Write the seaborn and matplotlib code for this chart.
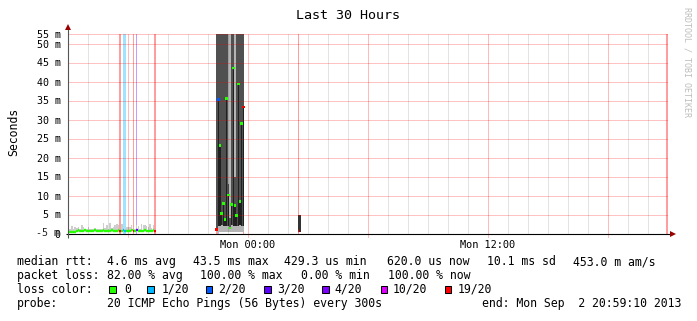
import numpy as np
import pandas as pd
import matplotlib
matplotlib.use("Agg")
import matplotlib.pyplot as plt
from matplotlib.patches import Rectangle
import seaborn as sns

# ---------------- data (time in hours after Sun 15:00, rtt in ms) ----------------
STEP_H = 300 / 3600.0          # one probe round = 300 s

# loss colour scale (SmokePing)
loss_levels = [0, 1, 2, 3, 4, 10, 19]
loss_labels = ["0", "1/20", "2/20", "3/20", "4/20", "10/20", "19/20"]
loss_colors = ["#26ff00", "#00b8ff", "#0059ff", "#5e00ff", "#7e00ff", "#dd00ff", "#ff0000"]

# first stretch of data (Sun 15:00 .. ~19:25)
left_start_h = 0.0
left_median = [0.30, 0.30, 0.35, 0.35, 0.45, 0.75, 0.80, 0.75, 0.70, 0.75,
               0.80, 0.75, 0.75, 0.70, 0.75, 0.75, 0.80, 0.75, 0.70, 0.75,
               0.75, 0.80, 0.75, 0.75, 0.70, 0.75, 0.80, 0.75, 0.75, 0.75,
               0.80, 0.75, 0.75, 0.80, 0.75, 0.75, 0.70, 0.75, 0.80, 0.75,
               0.75, 0.80, 0.75, 0.75, 0.70, 0.75, 0.80, 0.75, 0.75, 0.70,
               0.75, 0.80, 0.75]
left_min = [0.43, 0.43, 0.44, 0.45, 0.45, 0.46, 0.47, 0.46, 0.45, 0.46,
            0.47, 0.46, 0.46, 0.45, 0.46, 0.46, 0.47, 0.46, 0.45, 0.46,
            0.46, 0.47, 0.46, 0.46, 0.45, 0.46, 0.47, 0.46, 0.46, 0.46,
            0.47, 0.46, 0.46, 0.47, 0.46, 0.46, 0.45, 0.46, 0.47, 0.46,
            0.46, 0.47, 0.46, 0.46, 0.45, 0.46, 0.47, 0.46, 0.46, 0.45,
            0.46, 0.47, 0.46]
left_max = [2.8, 1.3, 1.9, 1.2, 1.6, 1.5, 1.8, 1.2, 2.2, 1.8,
            1.2, 1.3, 1.8, 1.2, 1.1, 1.2, 1.5, 1.1, 1.2, 1.1,
            1.3, 2.8, 1.4, 2.2, 1.3, 2.7, 1.4, 1.6, 2.2, 2.4,
            2.3, 1.2, 2.5, 1.3, 1.2, 1.8, 1.7, 1.8, 2.2, 1.2,
            1.3, 2.2, 2.1, 1.3, 2.4, 2.3, 2.2, 2.0, 1.6, 2.5,
            1.4, 2.2, 1.2]
left_loss = [0, 0, 0, 0, 0, 0, 0, 0, 0, 0,
             0, 0, 0, 0, 0, 0, 0, 0, 0, 0,
             0, 0, 0, 0, 0, 0, 0, 0, 0, 0,
             0, 19, 0, 1, 1, 0, 0, 0, 0, 19,
             0, 3, 0, 0, 0, 0, 0, 0, 0, 0,
             0, 0, 19]

# the burst of very slow replies (Sun 22:25 .. 23:50)
block_start_h = 7.4167
block_median = [1.0, 35.3, 23.2, 5.3, 7.9, 3.7, 35.5, 10.1, 1.5,
                7.6, 43.6, 7.4, 4.8, 39.3, 8.4, 29.0, 33.3]
block_loss = [19, 2, 0, 0, 0, 0, 0, 0, 0, 0, 0, 0, 0, 0, 0, 0, 19]
block_min = [0.45, 0.45, 0.44, 0.46, 0.45, 0.45, 0.46, 0.45, 0.44,
             0.45, 0.46, 0.45, 0.45, 0.44, 0.46, 0.45, 0.45]
block_q1 = [0.6, 2.1, 2.0, 2.2, 1.9, 2.0, 2.1, 2.0, 1.2,
            2.2, 2.0, 1.9, 2.1, 2.0, 2.2, 2.0, 2.1]
block_q3 = [70, 70, 70, 70, 70, 70, 70, 13, 4,
            70, 70, 15, 70, 70, 70, 70, 70]
block_max = [70, 70, 70, 70, 70, 70, 70, 70, 70,
             70, 70, 70, 70, 70, 70, 70, 70]

# isolated reply around Mon 02:30
spike_start_h = 11.5
spike_median = [0.6, np.nan]
spike_min = [0.4, 0.4]
spike_max = [4.8, 4.8]
spike_loss = [19, 20]

# last interval (100 % loss now)
end_loss_h = 29.9167
end_loss = 20

# axis ticks
x_tick_h = [9, 21]
x_tick_labels = ["Mon 00:00", "Mon 12:00"]
y_tick_ms = [0, 5, 10, 15, 20, 25, 30, 35, 40, 45, 50]

# ---------------- drawing ----------------
W, H = 697, 321
PX_PER_MS = 3.8
YMAX = 200 / PX_PER_MS
LW1 = 0.72  # one pixel

sns.set_theme(style="white")
plt.rcParams["font.family"] = ["DejaVu Sans Mono", "DejaVu Sans"]

fig = plt.figure(figsize=(W / 100, H / 100), dpi=100)
fig.patch.set_facecolor("white")
ax = fig.add_axes([67.5 / W, 87.5 / H, 600 / W, 200 / H])
ax.set_xlim(0, 30)
ax.set_ylim(0, YMAX)
for s in ax.spines.values():
    s.set_visible(False)
ax.set_facecolor("white")


def loss_color(l):
    c = loss_colors[0]
    for lev, col in zip(loss_levels, loss_colors):
        if l >= lev:
            c = col
    return c


def draw_bars(starts, lo, hi, color, frac=1.0, z=2, aa=False):
    starts = np.asarray(starts, float)
    lo = np.asarray(lo, float)
    hi = np.asarray(hi, float)
    m = ~(np.isnan(lo) | np.isnan(hi))
    ax.bar(starts[m] + (1 - frac) / 2 * STEP_H, (hi - lo)[m], bottom=lo[m],
           width=STEP_H * frac, align="edge", color=color, linewidth=0,
           zorder=z, antialiased=aa)


left_h = left_start_h + STEP_H * np.arange(len(left_median))
block_h = block_start_h + STEP_H * np.arange(len(block_median))
spike_h = spike_start_h + STEP_H * np.arange(len(spike_median))

# full-height loss markers
loss_marks = []
for h, l in zip(left_h, left_loss):
    if l > 0:
        loss_marks.append((h, l))
for h, l in zip(block_h, block_loss):
    if l > 0:
        loss_marks.append((h, l))
loss_marks.append((spike_h[0], spike_loss[0]))
loss_marks.append((end_loss_h, end_loss))
for h, l in loss_marks:
    ax.axvspan(h, h + STEP_H, color=loss_color(l), alpha=0.38, lw=0, zorder=1)

# smoke: first stretch
draw_bars(left_h, left_min, left_max, "#cdcdcd", z=2, aa=True)

# smoke: burst
draw_bars(block_h, block_min, block_max, "#b4b4b4", z=2)
draw_bars(block_h, block_q1, block_q3, "#505050", z=2.1)
draw_bars(block_h, block_q1, block_median, "#202020", frac=0.9, z=2.2)

# smoke: isolated reply
draw_bars(spike_h, spike_min, spike_max, "#333333", z=2)

# grid (drawn over the smoke, semi transparent)
for hh in range(1, 30):
    if hh % 6 == 3:
        ax.plot([hh, hh], [-0.95, YMAX], color=(1, 0, 0, 0.27), lw=LW1,
                clip_on=False, zorder=3)
    else:
        ax.plot([hh, hh], [0, YMAX], color=(0, 0, 0, 0.11), lw=LW1, zorder=3)
for v in y_tick_ms + [YMAX]:
    ax.axhline(v, color=(1, 0, 0, 0.24), lw=LW1, zorder=3)

# median lines coloured by loss
for h, m, l in zip(left_h, left_median, left_loss):
    if not np.isnan(m):
        ax.hlines(m, h, h + STEP_H, colors=loss_color(l), lw=1.7, zorder=4)
for h, m, l in zip(spike_h, spike_median, spike_loss):
    if not np.isnan(m):
        ax.hlines(m, h, h + STEP_H, colors=loss_color(l), lw=1.7, zorder=4)

block_df = pd.DataFrame({"t": block_h + STEP_H / 2, "median": block_median,
                         "loss": [loss_labels[loss_levels.index(max(lv for lv in loss_levels if lv <= l))]
                                  for l in block_loss]})
sns.scatterplot(data=block_df, x="t", y="median", hue="loss",
                palette=dict(zip(loss_labels, loss_colors)), marker="s",
                s=3.5, linewidth=0, legend=False, ax=ax, zorder=4)
ax.set_xlabel("")
ax.set_ylabel("")

# axes with arrows
ax.plot([-0.1, 30.2], [0, 0], color="black", lw=0.8, clip_on=False, zorder=5,
        solid_capstyle="butt")
ax.plot([0, 0], [-1.3, 53.9], color="#555555", lw=0.8, clip_on=False, zorder=5,
        solid_capstyle="butt")
ax.plot([30.25], [0], marker=">", ms=4, color="#9a0000", mew=0, clip_on=False, zorder=6)
ax.plot([0], [54.3], marker="^", ms=4, color="#9a0000", mew=0, clip_on=False, zorder=6)

# ticks
ax.set_xticks(x_tick_h)
ax.set_xticklabels(x_tick_labels, fontsize=7.4)
ax.set_yticks(y_tick_ms + [YMAX])
ax.set_yticklabels(["0"] + [f"{v} m" for v in y_tick_ms[1:]] + ["55 m"], fontsize=7.2)
ax.tick_params(axis="both", length=0, pad=5, colors="black")
ax.text(-7.5 / 20, 0, "-5 m", ha="right", va="center", fontsize=7.2,
        transform=ax.transData, clip_on=False)


def ftext(x, y, s, **kw):
    kw.setdefault("fontsize", 8.3)
    kw.setdefault("va", "center")
    kw.setdefault("ha", "left")
    kw.setdefault("color", "black")
    fig.text(x / W, 1 - y / H, s, **kw)


ftext(348.5, 15.5, "Last 30 Hours", ha="center", fontsize=9.6)
ftext(14, 131.7, "Seconds", ha="center", rotation=90, fontsize=8.3)
ftext(687.5, 62, "RRDTOOL / TOBI OETIKER", ha="center", rotation=270,
      fontsize=6.0, color="#bdbdbd")

# legend block
y1, y2, y3, y4 = 261.7, 275.3, 289.3, 303.3
for s, x in [("median rtt:", 16.7), ("4.6 ms avg", 107.3), ("43.5 ms max", 192.9),
             ("429.3 us min", 283.9), ("620.0 us now", 386.8), ("10.1 ms sd", 487.1),
             ("453.0 m am/s", 572.6)]:
    ftext(x, y1, s)
for s, x in [("packet loss:", 16.7), ("82.00 % avg", 107.3), ("100.00 % max", 200.5),
             ("0.00 % min", 300.8), ("100.00 % now", 387.7)]:
    ftext(x, y2, s)
ftext(16.7, y3, "loss color:")
box_x = [109.3, 147.0, 205.9, 264.3, 322.2, 381.0, 444.7]
lab_x = [123.9, 161.3, 218.4, 277.2, 334.2, 393.0, 457.7]
for bx, lx, lab, col in zip(box_x, lab_x, loss_labels, loss_colors):
    fig.add_artist(Rectangle((bx / W, 1 - (y3 + 3.3) / H), 6.5 / W, 6.5 / H,
                             transform=fig.transFigure, facecolor=col,
                             edgecolor="black", lw=0.75))
    ftext(lx, y3, lab)
ftext(16.7, y4, "probe:")
ftext(107.3, y4, "20 ICMP Echo Pings (56 Bytes) every 300s")
ftext(681.5, y4, "end: Mon Sep  2 20:59:10 2013", ha="right")

fig.savefig("out.png", dpi=100, facecolor="white")
